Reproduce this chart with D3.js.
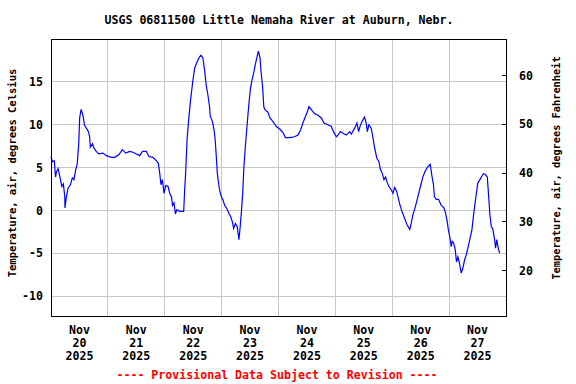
<!DOCTYPE html>
<html>
<head>
<meta charset="utf-8">
<script src="https://cdn.jsdelivr.net/npm/d3@7"></script>
<style>
  body { margin: 0; background: #fff; }
  text { font-family: "DejaVu Sans Mono", "Liberation Mono", monospace; font-weight: bold; }
</style>
</head>
<body>
<div id="chart"></div>
<script>
// hours since Nov 20 2025 00:00 and air temperature (deg C)
const hours = [0, 0.6, 1.4, 1.9, 2.3, 3.0, 3.4, 4.0, 4.6, 5.2, 5.8, 5.9, 6.5, 7.2, 8.2, 9.0, 9.7, 10.4, 11.1, 11.7,
  12.1, 12.7, 13.5, 14.1, 14.9, 15.8, 16.3, 16.6, 17.5, 18.1, 19.1, 20.1, 21.9, 23.4, 25.5, 26.9, 28.6, 30.1, 31.5, 33.2,
  34.6, 36.0, 37.4, 38.6, 40.2, 41.3, 43.0, 44.5, 45.3, 45.9, 46.4, 47.0, 47.7, 48.4, 49.4, 50.1, 50.8, 51.3, 51.9, 52.5,
  53.1, 54.3, 56.0, 56.4, 56.8, 57.4, 58.1, 58.9, 59.8, 60.6, 61.6, 62.6, 63.3, 64.1, 64.8, 65.5, 66.2, 66.9, 67.2, 68.1,
  68.8, 69.3, 69.8, 70.2, 70.9, 71.3, 71.9, 72.6, 73.3, 74.1, 75.0, 75.8, 76.5, 77.1, 77.8, 78.6, 79.3, 79.7, 80.3, 80.9,
  81.4, 82.0, 82.7, 83.4, 84.1, 84.8, 85.5, 86.2, 87.1, 87.5, 88.2, 88.7, 89.3, 89.8, 90.4, 91.5, 92.4, 93.6, 95.1, 96.5,
  97.9, 98.9, 100.7, 102.8, 104.2, 105.3, 106.3, 107.4, 108.3, 108.8, 109.5, 110.3, 111.2, 112.6, 114.1, 115.2, 116.8, 118.3, 119.2, 120.4,
  121.1, 122.1, 123.2, 124.6, 126.0, 126.7, 127.7, 128.5, 129.1, 129.8, 130.5, 131.3, 132.3, 133.0, 133.5, 134.1, 135.1, 135.8, 136.5, 137.5,
  138.4, 138.9, 139.8, 140.5, 141.2, 141.7, 142.6, 143.6, 144.3, 145.0, 145.9, 147.1, 148.1, 149.2, 150.3, 151.4, 152.0, 152.7, 153.7, 154.8,
  155.9, 156.9, 157.9, 159.0, 160.0, 160.7, 161.4, 161.8, 162.6, 163.5, 164.7, 165.8, 166.5, 167.2, 167.7, 168.3, 168.9, 169.3, 169.9, 170.6,
  171.1, 171.7, 172.4, 173.1, 173.8, 174.5, 175.2, 175.9, 176.7, 177.6, 178.4, 179.3, 180.1, 181.0, 181.8, 182.5, 183.3, 184.1, 184.6, 185.2,
  185.8, 186.4, 187.2, 187.6, 188.1, 188.6, 189.3];
const tempC = [6.3, 5.7, 5.8, 3.9, 4.5, 4.9, 4.4, 3.6, 2.8, 3.1, 1.7, 0.3, 1.6, 2.6, 3.0, 3.8, 3.6, 4.7, 5.5, 7.8,
  10.8, 11.8, 11.1, 10.0, 9.6, 9.2, 8.6, 7.4, 7.8, 7.3, 6.9, 6.6, 6.7, 6.4, 6.2, 6.2, 6.5, 7.1, 6.7, 6.9,
  6.8, 6.6, 6.4, 6.9, 6.9, 6.3, 6.2, 5.8, 5.5, 4.3, 3.0, 3.6, 2.0, 2.9, 2.8, 2.0, 1.6, 0.6, 0.9, -0.4,
  0.1, -0.1, -0.1, 2.4, 4.3, 8.2, 10.6, 12.9, 15.0, 16.6, 17.3, 17.9, 18.1, 17.8, 16.4, 14.6, 13.5, 12.1, 11.0, 10.4,
  9.4, 8.2, 6.1, 4.3, 2.8, 2.2, 1.6, 1.2, 0.6, 0.3, -0.3, -0.7, -1.3, -2.1, -1.5, -1.9, -3.4, -2.3, -0.3, 2.0,
  5.1, 7.4, 9.8, 12.1, 14.1, 15.2, 16.0, 17.0, 18.1, 18.6, 17.8, 16.0, 14.4, 12.1, 11.7, 11.5, 10.8, 10.4, 9.8, 9.5,
  9.1, 8.5, 8.5, 8.6, 8.8, 9.4, 10.2, 11.0, 11.6, 12.1, 11.9, 11.6, 11.3, 11.1, 10.8, 10.2, 10.0, 9.8, 9.2, 8.6,
  8.8, 9.2, 9.0, 8.8, 9.2, 8.9, 9.4, 9.8, 10.2, 9.2, 9.9, 10.4, 10.9, 10.2, 9.2, 10.0, 9.6, 8.6, 7.4, 6.1,
  5.7, 4.9, 4.3, 3.6, 3.9, 3.4, 2.8, 2.4, 2.0, 2.7, 2.2, 0.8, -0.1, -0.9, -1.7, -2.2, -1.5, -0.5, 0.4, 1.6,
  2.8, 3.9, 4.6, 5.1, 5.4, 4.1, 3.0, 1.6, 1.3, 1.3, 0.6, 0.3, -0.3, -1.3, -2.3, -3.1, -4.2, -3.6, -3.8, -4.6,
  -6.0, -5.4, -6.2, -7.3, -6.7, -5.8, -5.2, -4.4, -3.4, -2.3, -0.3, 1.6, 3.2, 3.6, 4.0, 4.3, 4.2, 3.9, 2.0, -0.5,
  -1.9, -2.1, -3.4, -4.4, -3.4, -4.2, -5.0];

const celsiusTicks = [-10, -5, 0, 5, 10, 15];
const fahrenheitTicks = [20, 30, 40, 50, 60];
const dayLabels = ["20", "21", "22", "23", "24", "25", "26", "27"];

const width = 576, height = 384;
const margin = { top: 39, right: 70, bottom: 68, left: 51 };

const start = new Date(Date.UTC(2025, 10, 20));
const end = new Date(Date.UTC(2025, 10, 28));
const data = hours.map((h, i) => ({ date: d3.utcMinute.offset(start, Math.round(h * 60)), value: tempC[i] }));

const svg = d3.select("#chart").append("svg")
    .attr("width", width)
    .attr("height", height);

const x = d3.scaleUtc().domain([start, end]).range([margin.left, width - margin.right]);
const y = d3.scaleLinear().domain([-12.3, 20.0]).range([height - margin.bottom, margin.top]);
const yF = d3.scaleLinear().domain([10.7, 67.5]).range([height - margin.bottom, margin.top]);

// grid
const grid = svg.append("g").attr("stroke", "#c8c8c8").attr("stroke-width", 1).attr("shape-rendering", "crispEdges");
grid.selectAll("line.h").data(celsiusTicks).enter().append("line")
    .attr("x1", margin.left).attr("x2", width - margin.right)
    .attr("y1", d => y(d)).attr("y2", d => y(d));
const midnights = d3.utcDay.range(d3.utcDay.offset(start, 1), end);
grid.selectAll("line.v").data(midnights).enter().append("line")
    .attr("x1", d => x(d)).attr("x2", d => x(d))
    .attr("y1", margin.top).attr("y2", height - margin.bottom);

// data line
const line = d3.line().x(d => x(d.date)).y(d => y(d.value));
svg.append("path")
    .datum(data)
    .attr("fill", "none")
    .attr("stroke", "#0000ff")
    .attr("stroke-width", 1.2)
    .attr("d", line);

// frame
svg.append("rect")
    .attr("x", margin.left).attr("y", margin.top)
    .attr("width", width - margin.left - margin.right)
    .attr("height", height - margin.top - margin.bottom)
    .attr("fill", "none").attr("stroke", "#000").attr("shape-rendering", "crispEdges");

// left axis labels
svg.append("g").selectAll("text").data(celsiusTicks).enter().append("text")
    .attr("x", margin.left - 8).attr("y", d => y(d))
    .attr("dy", "0.35em").attr("text-anchor", "end")
    .attr("font-size", "11.6px")
    .text(d => d);

// right axis: inward ticks + labels
const right = width - margin.right;
svg.append("g").selectAll("line").data(fahrenheitTicks).enter().append("line")
    .attr("x1", right - 4).attr("x2", right)
    .attr("y1", d => yF(d)).attr("y2", d => yF(d))
    .attr("stroke", "#000").attr("shape-rendering", "crispEdges");
svg.append("g").selectAll("text").data(fahrenheitTicks).enter().append("text")
    .attr("x", right + 13).attr("y", d => yF(d))
    .attr("dy", "0.35em")
    .attr("font-size", "11.6px")
    .text(d => d);

// bottom labels at noon of each day
const noons = dayLabels.map((d, i) => d3.utcHour.offset(start, i * 24 + 12));
const lbl = svg.append("g").selectAll("text").data(noons).enter().append("text")
    .attr("x", d => x(d))
    .attr("text-anchor", "middle")
    .attr("font-size", "11.6px");
lbl.append("tspan").attr("x", d => x(d)).attr("y", 334).text("Nov");
lbl.append("tspan").attr("x", d => x(d)).attr("y", 347).text((d, i) => dayLabels[i]);
lbl.append("tspan").attr("x", d => x(d)).attr("y", 360).text("2025");

// titles
svg.append("text")
    .attr("x", 279).attr("y", 24)
    .attr("text-anchor", "middle").attr("font-size", "11.6px")
    .text("USGS 06811500 Little Nemaha River at Auburn, Nebr.");

svg.append("text")
    .attr("transform", "translate(16,173) rotate(-90)")
    .attr("text-anchor", "middle").attr("font-size", "10.5px")
    .text("Temperature, air, degrees Celsius");

svg.append("text")
    .attr("transform", "translate(560,168) rotate(-90)")
    .attr("text-anchor", "middle").attr("font-size", "10.3px")
    .text("Temperature, air, degrees Fahrenheit");

svg.append("text")
    .attr("x", 277).attr("y", 379)
    .attr("text-anchor", "middle").attr("font-size", "11.6px")
    .attr("fill", "#ff0000")
    .text("---- Provisional Data Subject to Revision ----");
</script>
</body>
</html>
